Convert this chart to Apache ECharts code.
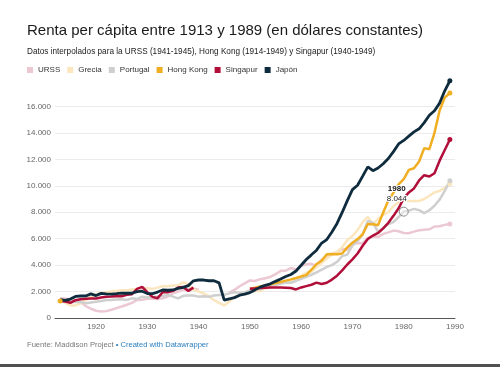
<!DOCTYPE html>
<html><head><meta charset="utf-8">
<script src="https://cdn.jsdelivr.net/npm/echarts@6/dist/echarts.min.js"></script>
<style>html,body{margin:0;padding:0;background:#fff}#c{width:500px;height:367px}</style>
</head><body><div id="c"></div>
<script>
const years = [1913,1914,1915,1916,1917,1918,1919,1920,1921,1922,
1923,1924,1925,1926,1927,1928,1929,1930,1931,1932,
1933,1934,1935,1936,1937,1938,1939,1940,1941,1942,
1943,1944,1945,1946,1947,1948,1949,1950,1951,1952,
1953,1954,1955,1956,1957,1958,1959,1960,1961,1962,
1963,1964,1965,1966,1967,1968,1969,1970,1971,1972,
1973,1974,1975,1976,1977,1978,1979,1980,1981,1982,
1983,1984,1985,1986,1987,1988,1989];

const urss = [1488,1450,1400,1350,1200,900,700,550,500,520,
620,750,870,1000,1150,1370,1386,1448,1462,1439,
1493,1630,1864,1991,2150,2150,2237,2144,null,null,
null,null,null,1913,2126,2402,2623,2841,2806,2937,
3013,3106,3313,3566,3576,3777,3669,3945,4063,4094,
3961,4416,4626,4807,4992,5212,5165,5575,5668,5643,
6059,6176,6135,6363,6474,6612,6563,6427,6407,6535,
6632,6672,6708,6921,6938,7043,7112];

const grecia = [1400,1150,950,950,1100,1350,1600,1800,1900,1950,
2000,2050,2100,2100,2150,2200,2250,2250,2200,2300,
2400,2400,2450,2450,2700,2550,2150,2000,1850,1650,
1350,1150,950,1250,1600,1700,1850,1951,2050,2050,
2250,2300,2450,2650,2780,2880,2980,3150,3450,3500,
3850,4150,4500,4800,5000,5350,5900,6200,6650,7250,
7650,7100,7500,7800,8000,8450,8750,8900,8850,8850,
8850,9000,9250,9500,9600,9850,10150];

const portugal = [1250,1244,1201,1234,1186,1122,1174,1229,1278,1358,
1370,1400,1416,1361,1489,1434,1610,1571,1589,1622,
1667,1749,1621,1487,1677,1707,1700,1615,1650,1600,
1707,1741,1761,1864,1947,1905,1949,2086,2172,2183,
2308,2415,2486,2587,2683,2670,2802,2956,3112,3270,
3443,3651,3869,4001,4251,4677,4796,5473,5797,6337,
7343,7188,6517,6810,7105,7259,7623,8044,8123,8256,
8156,7937,8153,8487,8955,9620,10372];

const hongKong = [1279,null,null,null,null,null,null,null,null,null,
null,null,null,null,null,null,null,null,null,null,
null,null,null,null,null,null,null,null,null,null,
null,null,null,null,null,null,null,2218,2295,2377,
2460,2546,2636,2729,2825,2924,3027,3134,3244,3652,
4083,4327,4825,4848,4824,4880,5345,5695,5968,6336,
7105,7091,7022,7985,8881,9487,10103,10503,11202,11328,
11836,12847,12763,13999,15687,16672,17017];

const singapur = [1280,1250,1150,1350,1420,1450,1480,1480,1550,1600,
1620,1650,1650,1750,1800,2200,2350,1950,1600,1500,
1950,1950,2050,2300,2350,2050,2300,null,null,null,
null,null,null,null,null,null,null,2219,2240,2260,
2280,2300,2300,2310,2290,2270,2160,2310,2412,2514,
2678,2567,2667,2906,3202,3602,4046,4439,4876,5464,
5977,6238,6430,6779,7196,7726,8296,9058,9500,9800,
10400,10800,10700,10950,11900,12700,13506];

const japon = [1387,1327,1430,1630,1665,1668,1827,1696,1860,1831,
1809,1836,1885,1872,1870,1992,2026,1850,1837,1962,
2122,2098,2120,2244,2315,2449,2816,2874,2873,2818,
2822,2659,1346,1444,1541,1725,1800,1921,2126,2336,
2474,2582,2771,2948,3136,3289,3554,3986,4426,4777,
5129,5668,5934,6506,7152,7983,8874,9714,10040,10734,
11434,11145,11344,11669,12064,12585,13163,13428,13754,14078,
14307,14773,15331,15679,16251,17185,17943];

const yTicks = [0,2000,4000,6000,8000,10000,12000,14000,16000];
const xLabels = [1920,1930,1940,1950,1960,1970,1980,1990];
const highlightYear = 1980;

const fmt = v => String(Math.round(v)).replace(/\B(?=(\d{3})+(?!\d))/g, '.');
const FONT = '"Liberation Sans", Arial, Helvetica, sans-serif';

function mk(name, vals, color, width, extra) {
  const last = vals.length - 1;
  return Object.assign({
    name, type: 'line',
    data: years.map((y, i) => [y, vals[i] === null ? '-' : vals[i]]),
    connectNulls: false,
    showSymbol: true, symbol: 'circle',
    symbolSize: (v, p) => {
      const i = p.dataIndex;
      if (vals[i] === null) return 0;
      const isolated = (i === 0 || vals[i-1] === null) && (i === last || vals[i+1] === null);
      return (i === last || isolated) ? 5 : 0;
    },
    lineStyle: { color, width },
    itemStyle: { color },
    emphasis: { disabled: true },
    animation: false, silent: true
  }, extra || {});
}

const hi = years.indexOf(highlightYear);

const chart = echarts.init(document.getElementById('c'), null, { renderer: 'canvas' });
chart.setOption({
  backgroundColor: '#fff',
  textStyle: { fontFamily: FONT },
  animation: false,
  title: {
    text: 'Renta per cápita entre 1913 y 1989 (en dólares constantes)',
    subtext: 'Datos interpolados para la URSS (1941-1945), Hong Kong (1914-1949) y Singapur (1940-1949)',
    left: 27, top: 23, padding: 0, itemGap: 10,
    textStyle: { fontSize: 15, fontWeight: 'normal', color: '#1a1a1a', fontFamily: FONT },
    subtextStyle: { fontSize: 8.2, color: '#222', fontFamily: FONT }
  },
  legend: {
    left: 27, top: 66, padding: 0, itemGap: 7,
    itemWidth: 6, itemHeight: 6, icon: 'rect',
    textStyle: { fontSize: 8, color: '#333', fontFamily: FONT },
    data: ['URSS', 'Grecia', 'Portugal', 'Hong Kong', 'Singapur', 'Japón']
  },
  grid: { left: 55, right: 45, top: 80, bottom: 49, containLabel: false },
  xAxis: {
    type: 'value', min: 1912, max: 1990, interval: 2,
    axisLine: { show: true, lineStyle: { color: '#555', width: 1 } },
    axisTick: { show: false },
    splitLine: { show: false },
    axisLabel: {
      color: '#666', fontSize: 8, margin: 5, fontFamily: FONT,
      formatter: v => xLabels.indexOf(v) >= 0 ? String(v) : ''
    }
  },
  yAxis: {
    type: 'value', min: 0, max: 18000, interval: 2000,
    axisLine: { show: false }, axisTick: { show: false },
    splitLine: { show: true, showMaxLine: false, lineStyle: { color: '#ebebeb', width: 1 } },
    axisLabel: {
      color: '#666', fontSize: 8, margin: 4, fontFamily: FONT, showMaxLabel: false,
      formatter: v => yTicks.indexOf(v) >= 0 ? fmt(v) : ''
    }
  },
  series: [
    mk('URSS', urss, '#ebc8d2', 2.5),
    mk('Grecia', grecia, '#fbe6bd', 2.5),
    mk('Portugal', portugal, '#cfcfcf', 2.5, {
      markPoint: {
        silent: true, animation: false, z: 10,
        symbol: 'circle', symbolSize: 9,
        data: [{
          coord: [years[hi], portugal[hi]], value: portugal[hi],
          itemStyle: { color: 'rgba(255,255,255,0.4)', borderColor: '#8a8a8a', borderWidth: 1 },
          label: {
            show: true, position: 'top', distance: 3, offset: [-7, 0],
            formatter: p => '{y|' + years[hi] + '}\n{v|' + fmt(p.value) + '}',
            textBorderColor: '#fff', textBorderWidth: 2,
            rich: {
              y: { fontWeight: 'bold', fontSize: 8, color: '#111', lineHeight: 10, fontFamily: FONT, textBorderColor: '#fff', textBorderWidth: 2 },
              v: { fontSize: 8, color: '#222', lineHeight: 10, fontFamily: FONT, textBorderColor: '#fff', textBorderWidth: 2 }
            }
          }
        }]
      }
    }),
    mk('Hong Kong', hongKong, '#f0ae22', 2.5),
    mk('Singapur', singapur, '#b10f3a', 2.5),
    mk('Japón', japon, '#0f2c3e', 2.8)
  ],
  graphic: [
    {
      type: 'text', left: 27, top: 341, silent: true,
      style: {
        text: '{a|Fuente: Maddison Project }{b|• Created with Datawrapper}',
        rich: {
          a: { fontSize: 7.6, fill: '#777', fontFamily: FONT },
          b: { fontSize: 7.6, fill: '#2b7fc0', fontFamily: FONT }
        }
      }
    },
    {
      type: 'rect', silent: true,
      shape: { x: 0, y: 364, width: 500, height: 3 },
      style: { fill: '#505050' }
    }
  ]
});
</script>
</body></html>
